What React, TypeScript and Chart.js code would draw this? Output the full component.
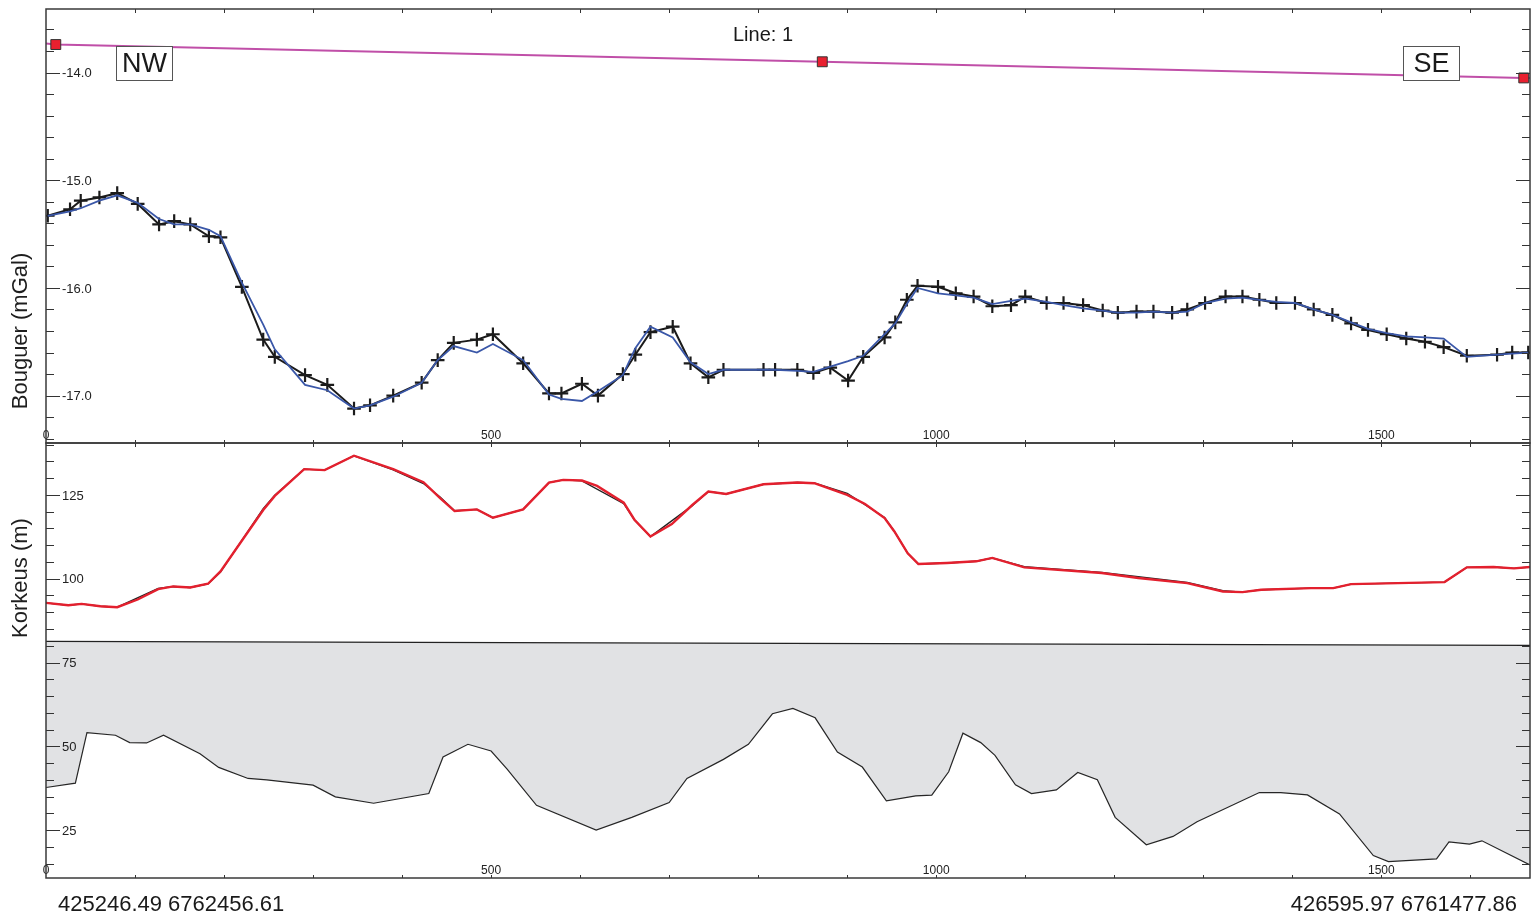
import React, { useEffect, useRef } from "react";
import { Chart, registerables } from "chart.js";

Chart.register(...registerables);

const FONT = '"Liberation Sans", Arial, Helvetica, sans-serif';

// ---------- Top panel: Bouguer anomaly (mGal) ----------
const stationDistance = [
  2, 27, 39, 60, 80, 103, 127, 144, 162, 183, 196, 220, 244, 257, 291, 316, 346, 364, 390, 422,
  440, 458, 484, 502, 536, 565, 579, 602, 620, 648, 662, 679, 704, 724, 744, 761, 806, 819, 844, 862,
  881, 901, 918, 942, 954, 967, 979, 1002, 1022, 1042, 1063, 1084, 1100, 1124, 1143, 1165, 1187, 1204, 1225, 1244,
  1265, 1282, 1302, 1325, 1344, 1363, 1382, 1403, 1424, 1445, 1466, 1485, 1506, 1528, 1549, 1570, 1596, 1630, 1647, 1665,
];
const bouguerObserved = [
  -15.33, -15.27, -15.19, -15.16, -15.12, -15.22, -15.41, -15.38, -15.41, -15.52, -15.53, -15.99, -16.48, -16.64, -16.81, -16.9, -17.12, -17.09, -17.0, -16.88,
  -16.67, -16.51, -16.48, -16.43, -16.7, -16.98, -16.98, -16.89, -17.0, -16.8, -16.62, -16.41, -16.36, -16.7, -16.83, -16.76, -16.76, -16.76, -16.76, -16.79,
  -16.74, -16.86, -16.64, -16.46, -16.32, -16.11, -15.98, -15.99, -16.05, -16.08, -16.17, -16.16, -16.08, -16.14, -16.14, -16.16, -16.21, -16.23, -16.22, -16.22,
  -16.23, -16.2, -16.14, -16.08, -16.08, -16.11, -16.14, -16.14, -16.2, -16.25, -16.33, -16.39, -16.43, -16.47, -16.5, -16.55, -16.63, -16.62, -16.6, -16.6,
];
const bouguerModel = [
  -15.33, -15.29, -15.26, -15.19, -15.14, -15.21, -15.36, -15.41, -15.41, -15.46, -15.52, -15.95, -16.34, -16.57, -16.9, -16.95, -17.12, -17.09, -17.01, -16.88,
  -16.67, -16.54, -16.6, -16.52, -16.67, -16.99, -17.03, -17.05, -16.96, -16.81, -16.56, -16.36, -16.46, -16.69, -16.8, -16.76, -16.76, -16.76, -16.77, -16.78,
  -16.73, -16.68, -16.63, -16.43, -16.33, -16.15, -16.0, -16.05, -16.07, -16.09, -16.15, -16.12, -16.1, -16.13, -16.16, -16.19, -16.21, -16.23, -16.23, -16.22,
  -16.23, -16.22, -16.14, -16.1, -16.09, -16.11, -16.13, -16.14, -16.2, -16.25, -16.32, -16.38, -16.42, -16.45, -16.46, -16.47, -16.64, -16.62, -16.61, -16.6,
];
const profileLineDistance = [0, 11, 872, 1660, 1667];
const profileLineLevel = [-13.73, -13.74, -13.9, -14.05, -14.05];
const profileLineMarkers = [0, 7, 7, 7, 0];

const bouguerTickLabels = [-14, -15, -16, -17];
const bouguerMinorStep = 0.2;
const distanceTickLabels = [0, 500, 1000, 1500];
const distanceMinorStep = 100;

// ---------- Bottom panel: Korkeus (m) ----------
const elevationDistance = [
  0, 25, 40, 61, 80, 103, 126, 143, 162, 182, 196, 218, 244, 257, 290, 313, 346, 390, 424, 443,
  459, 484, 502, 536, 565, 581, 602, 619, 649, 661, 679, 703, 726, 744, 764, 806, 844, 863, 900, 920,
  942, 953, 968, 980, 1012, 1045, 1063, 1099, 1186, 1227, 1282, 1322, 1344, 1365, 1421, 1446, 1466, 1571, 1596, 1626,
  1649, 1667,
];
const elevationDem = [
  92.8, 92.1, 92.5, 91.8, 91.5, 93.8, 96.9, 97.7, 97.4, 98.5, 102.2, 110.6, 120.5, 124.7, 132.7, 132.4, 136.7, 132.7, 128.8, 124.0,
  120.2, 120.7, 118.2, 120.7, 128.7, 129.5, 129.3, 127.7, 122.7, 117.6, 112.6, 116.3, 122.0, 126.0, 125.3, 128.2, 128.7, 128.5, 125.0, 122.3,
  118.1, 114.1, 107.6, 104.4, 104.7, 105.2, 106.2, 103.4, 101.7, 100.2, 98.7, 96.2, 96.0, 96.7, 97.2, 97.2, 98.4, 99.0, 103.4, 103.5,
  103.1, 103.5,
];
const stationElevDistance = [
  0, 25, 40, 61, 80, 126, 143, 162, 182, 196, 244, 257, 290, 313, 346, 390, 424, 443, 459, 484,
  502, 536, 565, 581, 602, 649, 661, 679, 726, 744, 764, 806, 844, 863, 900, 942, 953, 968, 980, 1012,
  1045, 1063, 1099, 1186, 1282, 1322, 1344, 1365, 1421, 1446, 1466, 1571, 1596, 1626, 1649, 1667,
];
const stationElevation = [
  92.8, 92.1, 92.5, 91.8, 91.5, 97.1, 97.7, 97.4, 98.5, 102.0, 120.9, 124.9, 132.7, 132.4, 136.7, 132.5, 128.4, 124.3, 120.3, 120.7,
  118.2, 120.7, 128.7, 129.5, 129.2, 122.4, 117.6, 112.6, 121.8, 126.0, 125.3, 128.2, 128.7, 128.6, 125.5, 118.3, 114.1, 107.6, 104.4, 104.7,
  105.2, 106.2, 103.6, 101.9, 98.9, 96.4, 96.0, 96.7, 97.2, 97.2, 98.4, 99.0, 103.4, 103.5, 103.1, 103.5,
];
const referencePlaneDistance = [0, 1667];
const referencePlaneLevel = [81.3, 80.1];
const basementDistance = [
  0, 33, 46, 78, 94, 113, 132, 173, 194, 227, 248, 300, 325, 368, 430, 446, 474, 500, 518, 551,
  618, 658, 700, 720, 761, 789, 816, 839, 864, 889, 917, 944, 977, 995, 1014, 1030, 1050, 1066, 1089, 1107,
  1135, 1159, 1181, 1201, 1236, 1266, 1293, 1363, 1387, 1417, 1453, 1491, 1508, 1562, 1576, 1599, 1613, 1667,
];
const basementLevel = [
  37.7, 39.0, 54.1, 53.3, 51.1, 51.0, 53.3, 47.8, 43.7, 40.4, 40.0, 38.4, 34.9, 33.0, 35.9, 46.8, 50.6, 48.6, 43.2, 32.4,
  25.0, 28.8, 33.2, 40.4, 46.1, 50.6, 59.7, 61.3, 58.5, 48.3, 43.8, 33.7, 35.2, 35.4, 42.4, 53.9, 51.1, 47.3, 38.5, 35.9,
  37.0, 42.2, 40.0, 28.8, 20.6, 23.1, 27.5, 36.2, 36.2, 35.5, 29.8, 17.4, 15.6, 16.4, 21.5, 20.8, 21.8, 14.6,
];
const elevationTickLabels = [125, 100, 75, 50, 25];
const elevationMinorStep = 5;

const startCoordinate = "425246.49 6762456.61";
const endCoordinate = "426595.97 6761477.86";

const X_MIN = 0;
const X_MAX = 1667;

const pts = (xs: number[], ys: number[]) => xs.map((x, i) => ({ x, y: ys[i] }));

function makeAxesPlugin(cfg: {
  yMin: number;
  yMax: number;
  yStep: number;
  yMajor: number[];
  yFmt: (v: number) => string;
  xLabelOffset: number;
  yTitle: string;
  yTitleCenter: number;
}) {
  return {
    id: "axesDecor",
    beforeDatasetsDraw(chart: any) {
      const { ctx } = chart;
      ctx.save();
      ctx.translate(21, cfg.yTitleCenter);
      ctx.rotate(-Math.PI / 2);
      ctx.font = `22px ${FONT}`;
      ctx.fillStyle = "#1e1e1e";
      ctx.textAlign = "center";
      ctx.textBaseline = "middle";
      ctx.fillText(cfg.yTitle, 0, 0);
      ctx.restore();
    },
    afterDatasetsDraw(chart: any) {
      const { ctx, chartArea: a, scales } = chart;
      const xs = scales.x;
      const ys = scales.y;
      ctx.save();
      ctx.strokeStyle = "#333";
      ctx.lineWidth = 1;
      ctx.fillStyle = "#222";
      // y ticks (left and right, inward)
      const n = Math.round((cfg.yMax - cfg.yMin) / cfg.yStep);
      for (let i = 0; i <= n; i++) {
        const v = cfg.yMin + i * cfg.yStep;
        const py = Math.round(ys.getPixelForValue(v)) + 0.5;
        if (py <= a.top + 1 || py >= a.bottom - 1) continue;
        const major = cfg.yMajor.some((m) => Math.abs(m - v) < 1e-6);
        const len = major ? 14 : 8;
        ctx.beginPath();
        ctx.moveTo(a.left, py);
        ctx.lineTo(a.left + len, py);
        ctx.moveTo(a.right, py);
        ctx.lineTo(a.right - len, py);
        ctx.stroke();
      }
      ctx.font = `13px ${FONT}`;
      ctx.textAlign = "left";
      ctx.textBaseline = "middle";
      for (const m of cfg.yMajor) {
        const py = ys.getPixelForValue(m);
        ctx.fillText(cfg.yFmt(m), a.left + 16, py + 1);
      }
      // x ticks on top and bottom edges, inward
      for (let v = X_MIN; v <= X_MAX; v += distanceMinorStep) {
        const px = Math.round(xs.getPixelForValue(v)) + 0.5;
        if (px <= a.left + 1 || px >= a.right - 1) continue;
        ctx.beginPath();
        ctx.moveTo(px, a.top);
        ctx.lineTo(px, a.top + 4);
        ctx.moveTo(px, a.bottom);
        ctx.lineTo(px, a.bottom - 3);
        ctx.stroke();
      }
      ctx.font = `12px ${FONT}`;
      ctx.textAlign = "center";
      ctx.textBaseline = "middle";
      for (const v of distanceTickLabels) {
        ctx.fillText(String(v), xs.getPixelForValue(v), a.bottom - cfg.xLabelOffset);
      }
      ctx.restore();
    },
    afterDraw(chart: any) {
      const { ctx, chartArea: a } = chart;
      ctx.save();
      ctx.strokeStyle = "#3a3a3a";
      ctx.lineWidth = 1.5;
      ctx.strokeRect(a.left, a.top, a.right - a.left, a.bottom - a.top);
      ctx.restore();
    },
  };
}

const topLabelsPlugin = {
  id: "topLabels",
  afterDatasetsDraw(chart: any) {
    const { ctx } = chart;
    ctx.save();
    ctx.fillStyle = "#1a1a1a";
    ctx.font = `20px ${FONT}`;
    ctx.textAlign = "center";
    ctx.textBaseline = "middle";
    ctx.fillText("Line: 1", 763, 35);
    const box = (label: string, x: number) => {
      ctx.fillStyle = "#fff";
      ctx.fillRect(x, 46, 56, 34);
      ctx.strokeStyle = "#555";
      ctx.lineWidth = 1;
      ctx.strokeRect(x + 0.5, 46.5, 56, 34);
      ctx.fillStyle = "#1a1a1a";
      ctx.font = `27px ${FONT}`;
      ctx.textAlign = "center";
      ctx.textBaseline = "middle";
      ctx.fillText(label, x + 28.5, 65);
    };
    box("NW", 116);
    box("SE", 1403);
    ctx.restore();
  },
};

const bottomTextPlugin = {
  id: "bottomText",
  afterDraw(chart: any) {
    const { ctx } = chart;
    ctx.save();
    ctx.fillStyle = "#1a1a1a";
    ctx.font = `22px ${FONT}`;
    ctx.textBaseline = "alphabetic";
    ctx.textAlign = "left";
    ctx.fillText(startCoordinate, 58, 470);
    ctx.textAlign = "right";
    ctx.fillText(endCoordinate, 1517, 470);
    ctx.restore();
  },
};

export default function App() {
  const topRef = useRef<HTMLCanvasElement>(null);
  const botRef = useRef<HTMLCanvasElement>(null);

  useEffect(() => {
    const common = {
      responsive: false,
      animation: false as const,
      devicePixelRatio: 1,
      events: [] as any[],
      plugins: { legend: { display: false }, tooltip: { enabled: false } },
    };

    const top = new Chart(topRef.current!, {
      type: "line",
      data: {
        datasets: [
          {
            label: "Laskettu",
            data: pts(stationDistance, bouguerModel),
            borderColor: "#3a57a8",
            borderWidth: 1.8,
            pointRadius: 0,
            tension: 0,
          },
          {
            label: "Mitattu",
            data: pts(stationDistance, bouguerObserved),
            borderColor: "#1b1b1b",
            borderWidth: 2,
            pointStyle: "cross",
            pointRadius: 6.8,
            pointBorderWidth: 2.2,
            pointBorderColor: "#1b1b1b",
            tension: 0,
          },
          {
            label: "Linja",
            data: pts(profileLineDistance, profileLineLevel),
            borderColor: "#c04fa8",
            borderWidth: 2,
            pointStyle: "rect",
            pointRadius: profileLineMarkers,
            pointBackgroundColor: "#e8202f",
            pointBorderColor: "#333",
            pointBorderWidth: 1,
            tension: 0,
          },
        ],
      },
      options: {
        ...common,
        layout: { autoPadding: false, padding: { left: 46, top: 9, right: 1, bottom: 2 } },
        scales: {
          x: { type: "linear", min: X_MIN, max: X_MAX, display: false },
          y: { type: "linear", min: -17.44, max: -13.41, display: false },
        },
      },
      plugins: [
        makeAxesPlugin({
          yMin: -17.4,
          yMax: -13.4,
          yStep: bouguerMinorStep,
          yMajor: bouguerTickLabels,
          yFmt: (v) => v.toFixed(1),
          xLabelOffset: 7,
          yTitle: "Bouguer (mGal)",
          yTitleCenter: 331,
        }),
        topLabelsPlugin,
      ],
    } as any);

    const bottom = new Chart(botRef.current!, {
      type: "line",
      data: {
        datasets: [
          {
            label: "Korkeus DEM",
            data: pts(elevationDistance, elevationDem),
            borderColor: "#e3202e",
            borderWidth: 2.4,
            pointRadius: 0,
            tension: 0,
          },
          {
            label: "Korkeus asemat",
            data: pts(stationElevDistance, stationElevation),
            borderColor: "#222",
            borderWidth: 1.4,
            pointRadius: 0,
            tension: 0,
          },
          {
            label: "Taso",
            data: pts(referencePlaneDistance, referencePlaneLevel),
            borderColor: "#222",
            borderWidth: 1.2,
            pointRadius: 0,
            tension: 0,
          },
          {
            label: "Pohja",
            data: pts(basementDistance, basementLevel),
            borderColor: "#262626",
            borderWidth: 1.2,
            pointRadius: 0,
            tension: 0,
            fill: { target: 2 },
            backgroundColor: "#e1e2e4",
          },
        ],
      },
      options: {
        ...common,
        layout: { autoPadding: false, padding: { left: 46, top: 2, right: 1, bottom: 42 } },
        scales: {
          x: { type: "linear", min: X_MIN, max: X_MAX, display: false },
          y: { type: "linear", min: 10.7, max: 140.5, display: false },
        },
      },
      plugins: [
        makeAxesPlugin({
          yMin: 15,
          yMax: 140,
          yStep: elevationMinorStep,
          yMajor: elevationTickLabels,
          yFmt: (v) => String(v),
          xLabelOffset: 7,
          yTitle: "Korkeus (m)",
          yTitleCenter: 137,
        }),
        bottomTextPlugin,
      ],
    } as any);

    return () => {
      top.destroy();
      bottom.destroy();
    };
  }, []);

  return (
    <div style={{ position: "absolute", left: 0, top: 0, width: 1531, height: 920, background: "#fff", overflow: "hidden" }}>
      <canvas
        ref={topRef}
        width={1531}
        height={445}
        style={{ position: "absolute", left: 0, top: 0, width: 1531, height: 445 }}
      />
      <canvas
        ref={botRef}
        width={1531}
        height={479}
        style={{ position: "absolute", left: 0, top: 441, width: 1531, height: 479 }}
      />
    </div>
  );
}
